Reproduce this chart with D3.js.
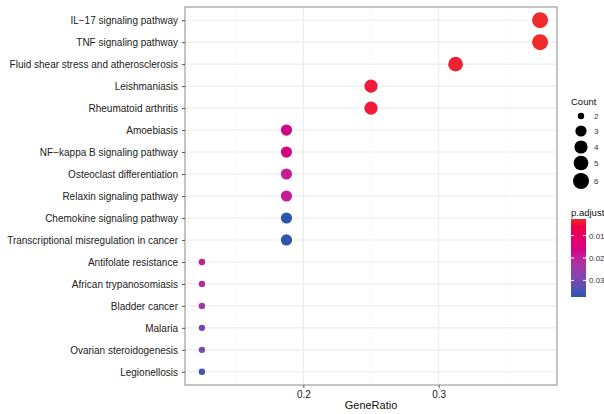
<!DOCTYPE html>
<meta charset="utf-8">
<title>KEGG dot plot</title>
<body style="margin:0;background:#fff">
<svg width=604 height=414></svg>
<script src="https://d3js.org/d3.v7.min.js"></script>
<script>
    const pathways = ["IL\u221217 signaling pathway", "TNF signaling pathway", "Fluid shear stress and atherosclerosis",
        "Leishmaniasis", "Rheumatoid arthritis", "Amoebiasis", "NF\u2212kappa B signaling pathway",
        "Osteoclast differentiation", "Relaxin signaling pathway", "Chemokine signaling pathway",
        "Transcriptional misregulation in cancer", "Antifolate resistance", "African trypanosomiasis",
        "Bladder cancer", "Malaria", "Ovarian steroidogenesis", "Legionellosis"];
    const counts = [6, 6, 5, 4, 4, 3, 3, 3, 3, 3, 3, 2, 2, 2, 2, 2, 2];
    const geneRatio = counts.map(c => c / 16);
    const padj = [0.0026, 0.0026, 0.0035, 0.0042, 0.0042, 0.0165, 0.0165, 0.019, 0.019, 0.0374, 0.0374,
        0.019, 0.022, 0.024, 0.029, 0.030, 0.035];
    const xTicks = [0.2, 0.3];
    const sizeBreaks = [2, 3, 4, 5, 6];
    const colorBreaks = [0.01, 0.02, 0.03];

    const data = pathways.map((p, i) => ({name: p, count: counts[i], ratio: geneRatio[i], p: padj[i]}));

    const svg = d3.select('svg');
    const font = "Liberation Sans, Arial, sans-serif";
    const pLeft = 185, pRight = 557, pTop = 7, pBottom = 385;

    const x = d3.scaleLinear().domain([0.1125, 0.3875]).range([pLeft, pRight]);
    const y = d3.scalePoint().domain(pathways).range([pTop, pBottom]).padding(0.6);
    const r = d3.scaleSqrt().domain([0, 4]).range([3.2, 8]);
    const pExt = d3.extent(padj);
    const col = d3.scaleLinear().domain(pExt).range(["#ee2a2a", "#2b55ae"]).interpolate(d3.interpolateHcl);

    // grid
    const g = svg.append('g');
    [0.15, 0.25, 0.35].forEach(v => g.append('line')
        .attr('x1', x(v)).attr('x2', x(v)).attr('y1', pTop).attr('y2', pBottom)
        .attr('stroke', '#f3f3f3').attr('stroke-width', 0.6));
    xTicks.forEach(v => g.append('line')
        .attr('x1', x(v)).attr('x2', x(v)).attr('y1', pTop).attr('y2', pBottom)
        .attr('stroke', '#ebebeb').attr('stroke-width', 1.1));
    pathways.forEach(p => g.append('line')
        .attr('x1', pLeft).attr('x2', pRight).attr('y1', y(p)).attr('y2', y(p))
        .attr('stroke', '#ebebeb').attr('stroke-width', 1.1));

    svg.selectAll('circle.pt')
        .data(data)
        .enter()
        .append('circle')
        .attr('class', 'pt')
        .attr('cx', d => x(d.ratio))
        .attr('cy', d => y(d.name))
        .attr('r', d => r(d.count - 2))
        .attr('fill', d => col(d.p));

    svg.append('rect').attr('x', pLeft).attr('y', pTop).attr('width', pRight - pLeft).attr('height', pBottom - pTop)
        .attr('fill', 'none').attr('stroke', '#8a8a8a').attr('stroke-width', 1);

    // axes
    const xAxis = svg.append('g').attr('transform', `translate(0,${pBottom})`)
        .call(d3.axisBottom(x).tickValues(xTicks).tickSize(3).tickFormat(d3.format('.1f')));
    const yAxis = svg.append('g').attr('transform', `translate(${pLeft},0)`)
        .call(d3.axisLeft(y).tickSize(3));
    [xAxis, yAxis].forEach(a => {
        a.select('.domain').remove();
        a.selectAll('line').attr('stroke', '#555');
        a.selectAll('text').attr('fill', '#222').attr('font-family', font).attr('font-size', 10);
    });
    yAxis.selectAll('text').attr('dx', -1);

    svg.append('text').attr('x', (pLeft + pRight) / 2).attr('y', 409).attr('text-anchor', 'middle')
        .attr('font-family', font).attr('font-size', 11).attr('fill', '#111').text('GeneRatio');

    // size legend
    svg.append('text').attr('x', 571).attr('y', 105).attr('font-family', font).attr('font-size', 9.5)
        .attr('fill', '#111').text('Count');
    const sy = [116, 131, 147, 163, 181];
    sizeBreaks.forEach((c, i) => {
        svg.append('circle').attr('cx', 581).attr('cy', sy[i]).attr('r', r(c - 2)).attr('fill', '#000');
        svg.append('text').attr('x', 594).attr('y', sy[i] + 3).attr('font-family', font).attr('font-size', 8)
            .attr('fill', '#333').text(c);
    });

    // colour legend
    svg.append('text').attr('x', 571).attr('y', 216).attr('font-family', font).attr('font-size', 9.5)
        .attr('fill', '#111').text('p.adjust');
    const barTop = 219, barBot = 297;
    const cb = d3.scaleLinear().domain(pExt).range([barTop, barBot]);
    const grad = svg.append('defs').append('linearGradient').attr('id', 'pg')
        .attr('x1', 0).attr('x2', 0).attr('y1', 0).attr('y2', 1);
    d3.range(0, 1.001, 0.1).forEach(t => grad.append('stop').attr('offset', t)
        .attr('stop-color', col(pExt[0] + t * (pExt[1] - pExt[0]))));
    svg.append('rect').attr('x', 571).attr('y', barTop).attr('width', 15).attr('height', barBot - barTop)
        .attr('fill', 'url(#pg)');
    colorBreaks.forEach(v => {
        svg.append('line').attr('x1', 571).attr('x2', 574).attr('y1', cb(v)).attr('y2', cb(v)).attr('stroke', '#fff');
        svg.append('line').attr('x1', 583).attr('x2', 586).attr('y1', cb(v)).attr('y2', cb(v)).attr('stroke', '#fff');
        svg.append('text').attr('x', 589).attr('y', cb(v) + 3).attr('font-family', font).attr('font-size', 8)
            .attr('fill', '#333').text(v);
    });
</script>
